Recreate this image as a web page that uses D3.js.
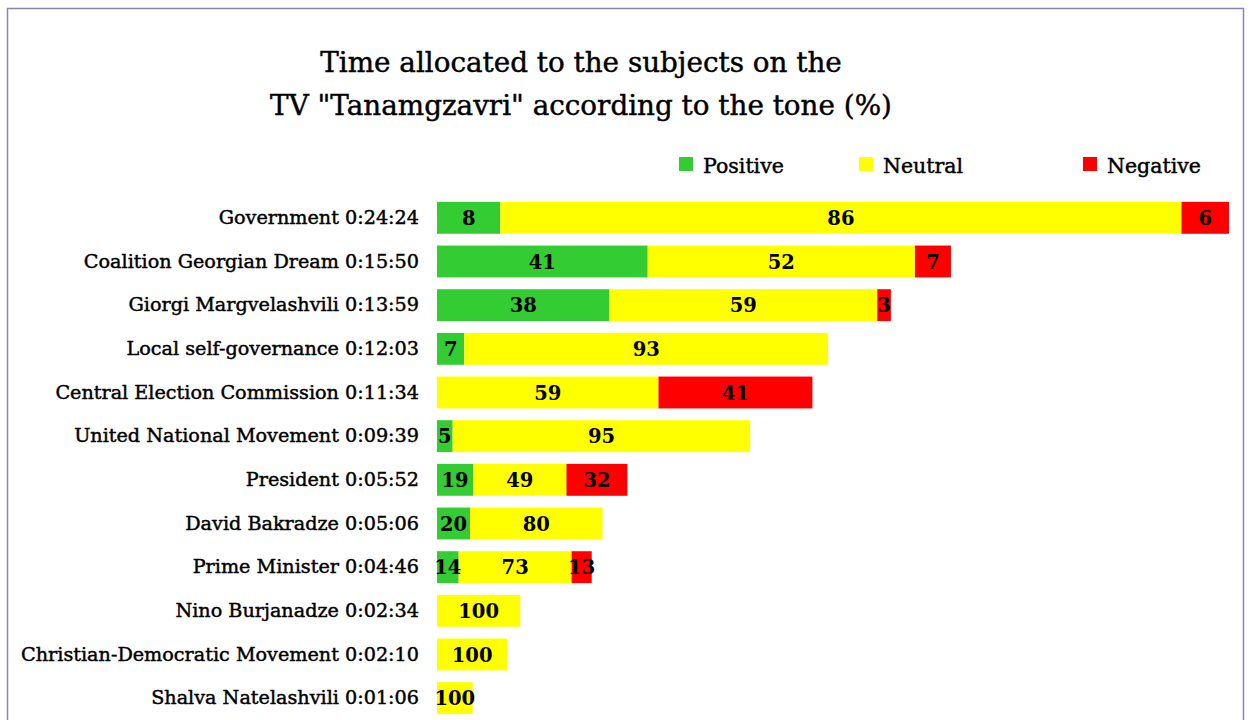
<!DOCTYPE html>
<html>
<head>
<meta charset="utf-8">
<script src="https://cdn.jsdelivr.net/npm/d3@7"></script>
<style>
  body { margin: 0; background: #fff; }
  svg text { font-family: "DejaVu Serif", "Liberation Serif", serif; fill: #000; }
  .heavy { stroke: #000; stroke-width: 0.45px; }
</style>
</head>
<body>
<svg id="chart" width="1250" height="720"></svg>
<script>
// chart data
const subjects = ["Government", "Coalition Georgian Dream", "Giorgi Margvelashvili",
  "Local self-governance", "Central Election Commission", "United National Movement",
  "President", "David Bakradze", "Prime Minister", "Nino Burjanadze",
  "Christian-Democratic Movement", "Shalva Natelashvili"];
const times = ["0:24:24", "0:15:50", "0:13:59", "0:12:03", "0:11:34", "0:09:39",
  "0:05:52", "0:05:06", "0:04:46", "0:02:34", "0:02:10", "0:01:06"];
const positive = [8, 41, 38, 7, 0, 5, 19, 20, 14, 0, 0, 0];
const neutral = [86, 52, 59, 93, 59, 95, 49, 80, 73, 100, 100, 100];
const negative = [6, 7, 3, 0, 41, 0, 32, 0, 13, 0, 0, 0];
const tones = ["Positive", "Neutral", "Negative"];
const colors = ["#33cc33", "#ffff00", "#ff0000"];

function toSeconds(t) {
  let p = t.split(':').map(Number);
  return p[0] * 3600 + p[1] * 60 + p[2];
}

let svg = d3.select('#chart');

// frame
svg.append('rect')
  .attr('x', 7.5).attr('y', 8.5)
  .attr('width', 1236).attr('height', 730)
  .attr('fill', 'none')
  .attr('stroke', '#8585b8')
  .attr('stroke-width', 1.5);

// title
let title = svg.append('text')
  .attr('class', 'heavy')
  .attr('text-anchor', 'middle')
  .attr('font-size', 27.8);
title.append('tspan').attr('x', 581).attr('y', 72).text('Time allocated to the subjects on the');
title.append('tspan').attr('x', 581).attr('y', 115).text('TV "Tanamgzavri" according to the tone (%)');

// build rows: segment lengths in seconds from share of time
let rows = subjects.map(function (s, i) {
  let total = toSeconds(times[i]);
  let pcts = [positive[i], neutral[i], negative[i]];
  let start = 0;
  let segs = pcts.map(function (p, k) {
    let len = total * p / 100;
    let seg = { key: s, tone: k, pct: p, x0: start, x1: start + len };
    start += len;
    return seg;
  });
  return { key: s, label: s + ' ' + times[i], segs: segs };
});

let maxTotal = d3.max(times, toSeconds);
let x = d3.scaleLinear().domain([0, maxTotal]).range([437, 1229]);
let y = d3.scaleBand().domain(subjects).range([196, 720]).paddingInner(0.27).paddingOuter(0.135);

// category axis
let labelMap = {};
rows.forEach(function (r) { labelMap[r.key] = r.label; });
let yAxis = svg.append('g')
  .attr('transform', 'translate(437,0)')
  .call(d3.axisLeft(y).tickSize(0).tickPadding(18).tickFormat(function (d) { return labelMap[d]; }));
yAxis.select('.domain').remove();
yAxis.selectAll('text')
  .attr('class', 'heavy')
  .attr('font-size', 19.2)
  .style('font-family', '"DejaVu Serif", serif')
  .attr('fill', '#000');

// bars
let segs = rows.flatMap(function (r) { return r.segs; }).filter(function (d) { return d.pct > 0; });

svg.selectAll('.bar')
  .data(segs)
  .enter().append('rect')
  .attr('class', 'bar')
  .attr('x', function (d) { return x(d.x0); })
  .attr('y', function (d) { return y(d.key); })
  .attr('width', function (d) { return x(d.x1) - x(d.x0); })
  .attr('height', y.bandwidth())
  .attr('fill', function (d) { return colors[d.tone]; });

svg.selectAll('.val')
  .data(segs)
  .enter().append('text')
  .attr('class', 'val')
  .attr('x', function (d) { return (x(d.x0) + x(d.x1)) / 2; })
  .attr('y', function (d) { return y(d.key) + y.bandwidth() / 2; })
  .attr('dy', '0.37em')
  .attr('text-anchor', 'middle')
  .attr('font-size', 19.5)
  .attr('font-weight', 'bold')
  .text(function (d) { return d.pct; });

// legend
let legendX = [679, 859, 1083];
let legend = svg.selectAll('.legend')
  .data(tones)
  .enter().append('g')
  .attr('class', 'legend')
  .attr('transform', function (d, i) { return 'translate(' + legendX[i] + ',157)'; });
legend.append('rect')
  .attr('width', 14).attr('height', 14)
  .attr('fill', function (d, i) { return colors[i]; });
legend.append('text')
  .attr('class', 'heavy')
  .attr('x', 24).attr('y', 16)
  .attr('font-size', 20.5)
  .text(function (d) { return d; });
</script>
</body>
</html>
